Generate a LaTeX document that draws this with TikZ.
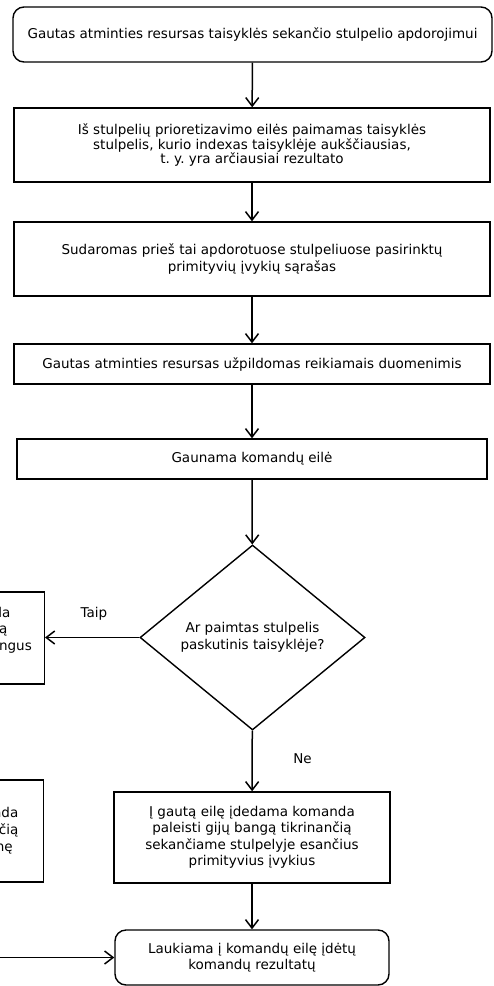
\documentclass[tikz,border=0pt]{standalone}
\usepackage{fontspec}
\setmainfont{DejaVu Sans}
\usetikzlibrary{shapes.geometric,arrows.meta}
\frenchspacing

\begin{document}
\begin{tikzpicture}[x=1pt,y=-1pt,
  every node/.style={font=\fontsize{13.5}{16.5}\selectfont},
  box/.style={draw, line width=1.4pt, align=center, inner sep=0pt},
  roundbox/.style={box, rounded corners=11pt},
  decision/.style={draw, diamond, aspect=1.216, line width=1.4pt, align=center, inner sep=0pt},
  flow/.style={line width=1.5pt, -{Straight Barb[length=8.5pt,width=13pt,line width=1.5pt]}},
  frag/.style={anchor=base east, inner sep=0pt},
  lbl/.style={anchor=base, inner sep=0pt}]
\useasboundingbox (0,0) rectangle (494,986);
\clip (0,0) rectangle (494,986);

% main column
\node[roundbox, minimum width=479pt, minimum height=55pt] (start) at (252.5,34.5)
  {Gautas atminties resursas taisyklės sekančio stulpelio apdorojimui};
\node[box, minimum width=476pt, minimum height=74pt,
      font=\fontsize{13.5}{13.4}\selectfont] (pick) at (252,145)
  {Iš stulpelių prioretizavimo eilės paimamas taisyklės\\
   stulpelis, kurio indexas taisyklėje aukščiausias,\\
   t. y. yra arčiausiai rezultato};
\node[box, minimum width=476pt, minimum height=74pt] (list) at (252,259)
  {Sudaromas prieš tai apdorotuose stulpeliuose pasirinktų\\
   primityvių įvykių sąrašas};
\node[box, minimum width=476pt, minimum height=40pt] (fill) at (252,364)
  {Gautas atminties resursas užpildomas reikiamais duomenimis};
\node[box, minimum width=470pt, minimum height=40pt] (queue) at (252,459)
  {Gaunama komandų eilė};
\node[decision, minimum width=225pt, minimum height=185pt] (last) at (252.5,637.5)
  {Ar paimtas stulpelis\\paskutinis taisyklėje?};
\node[box, minimum width=276pt, minimum height=91pt] (wave) at (252,837.5)
  {Į gautą eilę įdedama komanda\\
   paleisti gijų bangą tikrinančią\\
   sekančiame stulpelyje esančius\\
   primityvius įvykius};
\node[roundbox, minimum width=274pt, minimum height=55pt] (wait) at (252,957.5)
  {Laukiama į komandų eilę įdėtų\\komandų rezultatų};

% boxes on the left edge, running past the border
\node[box, minimum width=200pt, minimum height=92pt, anchor=east] (yesbox) at (45,638) {};
\node[frag] (y1) at (10.5,617) {la};
\node[frag] (y2) at (7.5,633.5) {ą};
\node[frag] (y3) at (32,650.5) {ngus};

\node[box, minimum width=200pt, minimum height=102pt, anchor=east] (sidebox) at (44,831) {};
\node[frag] (z1) at (18.5,817) {nda};
\node[frag] (z2) at (18.5,834) {čią};
\node[frag] (z3) at (13,851) {nę};

\coordinate (offl) at (-10,0);

% connectors
\draw[flow] (start) -- (pick);
\draw[flow] (pick) -- (list);
\draw[flow] (list) -- (fill);
\draw[flow] (fill) -- (queue);
\draw[flow] (queue) -- (last);
\draw[flow] (last.west) -- (last.west -| yesbox.east);
\draw[flow] (last) -- (wave);
\draw[flow] (wave) -- (wait);
\draw[flow] (offl |- wait.west) -- (wait.west);

% branch labels
\node[lbl] (taip) at (94,617) {Taip};
\node[lbl] (ne) at (302.5,763) {Ne};
\end{tikzpicture}
\end{document}
